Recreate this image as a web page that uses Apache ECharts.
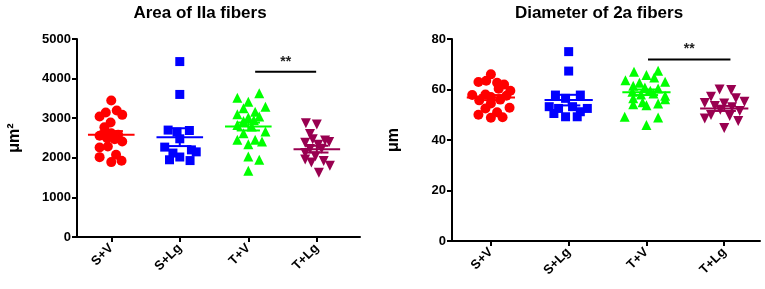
<!DOCTYPE html>
<html>
<head>
<meta charset="utf-8">
<title>Fiber area and diameter</title>
<script src="https://cdn.jsdelivr.net/npm/echarts@6/dist/echarts.min.js"></script>
<style>
  html, body { margin: 0; padding: 0; background: #fff; }
  #chart { width: 765px; height: 289px; }
</style>
</head>
<body>
<div id="chart"></div>
<script>
// groups
const groups = ['S+V', 'S+Lg', 'T+V', 'T+Lg'];
const groupColors = ['#ff0000', '#0000ff', '#00ff00', '#990050'];

// Area of IIa fibers (µm²) - value + horizontal jitter (in category units)
const areaSV = [3445, 3143, 3042, 3193, 3084, 2891, 2773, 2639, 2555, 2622, 2580, 2496, 2471, 2412, 2261, 2286, 2017, 2076, 1891, 1924];
const areaSVJit = [0, -0.08, -0.17, 0.08, 0.16, -0.01, -0.1, -0.08, -0.17, 0, 0.1, -0.06, 0.05, 0.16, -0.17, -0.05, -0.17, 0.07, 0, 0.15];
const areaSLg = [4430, 3600, 2700, 2690, 2650, 2480, 2270, 2200, 2150, 2120, 2020, 1950, 1930];
const areaSLgJit = [0, 0, -0.17, 0.14, -0.04, 0, -0.22, 0.17, 0.24, -0.1, 0, -0.15, 0.15];
const areaTV = [3630, 3519, 3418, 3292, 3252, 3166, 3101, 3015, 3040, 2932, 2957, 2788, 2831, 2662, 2622, 2453, 2344, 2453, 2410, 2032, 1949, 1671];
const areaTVJit = [0.16, -0.16, 0, 0.25, -0.07, 0.1, -0.16, 0, 0.16, -0.07, 0.08, 0.05, -0.16, 0.25, -0.07, 0.1, 0, -0.16, 0.2, 0, 0.16, 0];
const areaTLg = [2870, 2840, 2600, 2470, 2380, 2440, 2330, 2400, 2220, 2230, 2120, 2040, 1920, 1960, 1800, 1620, 1880];
const areaTLgJit = [-0.16, 0, -0.1, -0.06, -0.17, 0.12, 0.02, 0.18, -0.1, 0.07, -0.17, -0.02, 0.1, -0.17, 0.19, 0.03, -0.08];
const areaMean = [2580, 2521, 2790, 2218];
const areaSem = [95, 225, 100, 85];
const areaSig = [3.1, 3.99, 4170]; // from, to, level

// Diameter of 2a fibers (µm)
const diaSV = [66, 63, 63.5, 62.7, 62, 60.3, 59.5, 57.8, 58, 57, 56, 55.7, 54.5, 52.8, 52.5, 51, 50, 49, 48.8, 57.5];
const diaSVJit = [0, -0.16, -0.06, 0.08, 0.17, 0.1, 0.25, -0.24, -0.07, 0, 0.12, -0.15, 0, 0.24, -0.07, 0.08, -0.16, 0.15, 0, 0.2];
const diaSLg = [75, 67.3, 57.8, 57.8, 56.5, 53.2, 52.5, 53.2, 52.5, 51.2, 50.5, 49.2, 49.2];
const diaSLgJit = [0, 0, 0.15, -0.17, -0.04, -0.25, -0.13, 0.05, 0.24, 0.15, -0.19, -0.04, 0.11];
const diaTV = [67, 67.4, 65.7, 63.7, 64.8, 63.1, 62.7, 61.5, 60.8, 60.4, 59.1, 59.5, 58.4, 58, 57.5, 56.5, 56.1, 55, 54.2, 53.8, 54.5, 49.2, 48.9, 45.9];
const diaTVJit = [-0.16, 0.15, 0, -0.27, 0.1, 0.24, -0.09, -0.17, -0.02, 0.15, -0.18, 0.05, 0.09, -0.07, 0.24, -0.17, 0.24, -0.05, -0.17, 0, 0.15, -0.28, 0.15, 0];
const diaTLg = [60, 59.8, 57.1, 56.5, 55.1, 54.7, 54.5, 53.5, 53, 52, 51.5, 49.9, 49.5, 48.5, 47.5, 44.8];
const diaTLgJit = [-0.06, 0.09, -0.17, 0.15, 0.26, -0.25, 0, -0.12, 0.1, -0.05, 0.2, -0.17, 0.07, -0.25, 0.18, 0];
const diaMean = [56.8, 55.8, 58.9, 52.5];
const diaSem = [1.0, 2.1, 1.1, 1.0];
const diaSig = [3.02, 4.08, 71.9];

const FONT = 'Arial, "Liberation Sans", sans-serif';
const symbols = ['circle', 'rect', 'triangle', 'triangle'];
const rotations = [0, 0, 0, 180];

const chart = echarts.init(document.getElementById('chart'));

function scatterSeries(idx, sets) {
  return sets.map((s, g) => ({
    type: 'scatter',
    xAxisIndex: idx,
    yAxisIndex: idx,
    symbol: symbols[g],
    symbolRotate: rotations[g],
    symbolSize: g === 1 ? 9 : 10,
    itemStyle: { color: groupColors[g], opacity: 1 },
    z: 2,
    data: s.vals.map((v, i) => [g + 1 + s.jit[i], v])
  }));
}

function meanSeries(idx, means, sems, halfW, halfCap) {
  return {
    type: 'custom',
    xAxisIndex: idx,
    yAxisIndex: idx,
    z: 5,
    silent: true,
    data: means.map((m, i) => [i + 1, m, sems[i]]),
    renderItem(params, api) {
      const x = api.value(0), m = api.value(1), s = api.value(2);
      const col = groupColors[params.dataIndex];
      const st = { stroke: col, lineWidth: 2 };
      const a = api.coord([x - halfW, m]), b = api.coord([x + halfW, m]);
      const top = api.coord([x, m + s]), bot = api.coord([x, m - s]);
      const c1 = api.coord([x - halfCap, m + s]), c2 = api.coord([x + halfCap, m + s]);
      const c3 = api.coord([x - halfCap, m - s]), c4 = api.coord([x + halfCap, m - s]);
      return {
        type: 'group',
        children: [
          { type: 'line', shape: { x1: a[0], y1: a[1], x2: b[0], y2: b[1] }, style: st },
          { type: 'line', shape: { x1: top[0], y1: top[1], x2: bot[0], y2: bot[1] }, style: st },
          { type: 'line', shape: { x1: c1[0], y1: c1[1], x2: c2[0], y2: c2[1] }, style: st },
          { type: 'line', shape: { x1: c3[0], y1: c3[1], x2: c4[0], y2: c4[1] }, style: st }
        ]
      };
    }
  };
}

function sigSeries(idx, sig) {
  return {
    type: 'custom',
    xAxisIndex: idx,
    yAxisIndex: idx,
    silent: true,
    z: 6,
    data: [sig],
    renderItem(params, api) {
      const p1 = api.coord([api.value(0), api.value(2)]);
      const p2 = api.coord([api.value(1), api.value(2)]);
      return {
        type: 'group',
        children: [
          { type: 'line', shape: { x1: p1[0], y1: p1[1], x2: p2[0], y2: p2[1] }, style: { stroke: '#000', lineWidth: 2 } },
          { type: 'text', style: { x: (p1[0] + p2[0]) / 2, y: p1[1] - 3, text: '**', fill: '#222', font: 'bold 14px ' + FONT, textAlign: 'center', textVerticalAlign: 'bottom' } }
        ]
      };
    }
  };
}

function xAxisCfg(idx, max) {
  return {
    type: 'value', gridIndex: idx, min: 0.5, max: max,
    axisLine: { lineStyle: { color: '#000', width: 2 } },
    axisTick: { show: true, customValues: [1, 2, 3, 4], length: 5, lineStyle: { color: '#000', width: 2 } },
    axisLabel: {
      customValues: [1, 2, 3, 4], rotate: 45, margin: 9,
      formatter: v => groups[Math.round(v) - 1] || '',
      color: '#000', fontWeight: 'bold', fontSize: 13, fontFamily: FONT
    },
    splitLine: { show: false }
  };
}

function yAxisCfg(idx, max, interval, name) {
  return {
    type: 'value', gridIndex: idx, min: 0, max: max, interval: interval,
    name: name, nameLocation: 'middle', nameGap: idx === 0 ? 54 : 50, nameRotate: 90,
    nameTextStyle: { color: '#000', fontWeight: 'bold', fontSize: 16, fontFamily: FONT },
    axisLine: { show: true, lineStyle: { color: '#000', width: 2 } },
    axisTick: { show: true, length: 5, lineStyle: { color: '#000', width: 2 } },
    axisLabel: { color: '#000', fontWeight: 'bold', fontSize: 13, fontFamily: FONT, margin: 6, formatter: v => String(v) },
    splitLine: { show: false }
  };
}

const option = {
  backgroundColor: '#fff',
  animation: false,
  title: [
    { text: 'Area of IIa fibers', left: 195, top: 0, textAlign: 'center',
      textStyle: { fontSize: 17, fontWeight: 'bold', color: '#000', fontFamily: FONT } },
    { text: 'Diameter of 2a fibers', left: 594, top: 0, textAlign: 'center',
      textStyle: { fontSize: 17, fontWeight: 'bold', color: '#000', fontFamily: FONT } }
  ],
  grid: [
    { left: 77, top: 39, width: 283, height: 198 },
    { left: 452, top: 39, width: 308, height: 202 }
  ],
  xAxis: [xAxisCfg(0, 4.63), xAxisCfg(1, 4.46)],
  yAxis: [yAxisCfg(0, 5000, 1000, 'μm²'), yAxisCfg(1, 80, 20, 'μm')],
  series: [
    ...scatterSeries(0, [
      { vals: areaSV, jit: areaSVJit },
      { vals: areaSLg, jit: areaSLgJit },
      { vals: areaTV, jit: areaTVJit },
      { vals: areaTLg, jit: areaTLgJit }
    ]),
    meanSeries(0, areaMean, areaSem, 0.34, 0.17),
    sigSeries(0, areaSig),
    ...scatterSeries(1, [
      { vals: diaSV, jit: diaSVJit },
      { vals: diaSLg, jit: diaSLgJit },
      { vals: diaTV, jit: diaTVJit },
      { vals: diaTLg, jit: diaTLgJit }
    ]),
    meanSeries(1, diaMean, diaSem, 0.31, 0.15),
    sigSeries(1, diaSig)
  ]
};

chart.setOption(option);
</script>
</body>
</html>
